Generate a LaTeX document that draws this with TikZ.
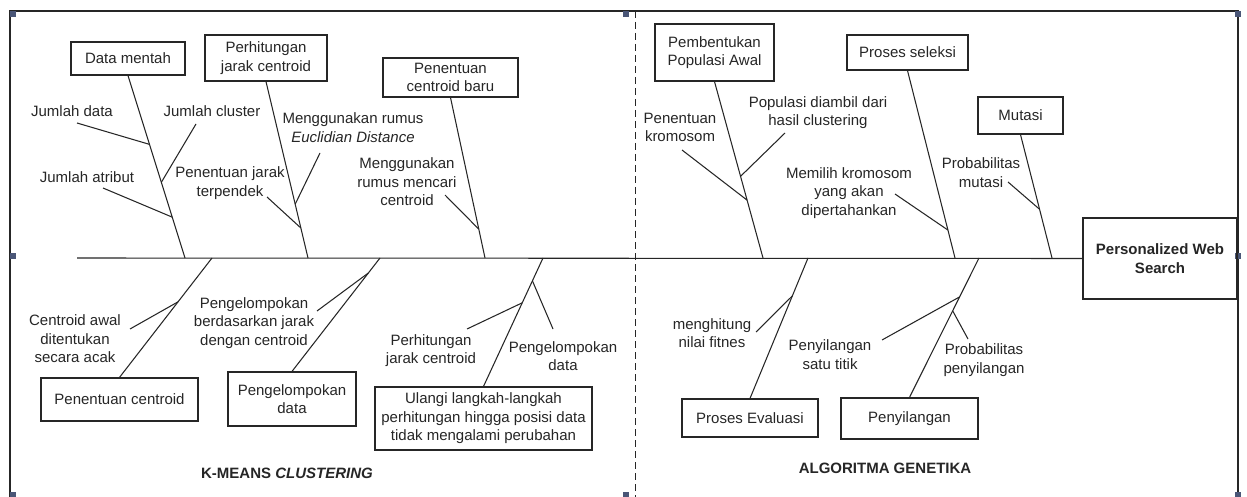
\documentclass[tikz,border=0pt]{standalone}
\usepackage{fontspec}
\setmainfont{Liberation Sans}
\usetikzlibrary{calc}
\definecolor{ink}{HTML}{262626}
\definecolor{handle}{HTML}{4A5677}
\begin{document}
\begin{tikzpicture}[x=1pt,y=-1pt,
  every node/.style={font=\fontsize{15pt}{18.5pt}\selectfont, text=ink},
  box/.style={draw=ink, line width=1.2pt, align=center, inner sep=0pt},
  lbl/.style={align=center, inner sep=0pt},
  bone/.style={draw=ink, line width=1.05pt},
  hdl/.style={fill=handle, draw=none},
  frm/.style={draw=ink, line width=1.3pt}]
\useasboundingbox (0,0) rectangle (1247,497);
\fill[white] (0,0) rectangle (1247,497);
% frame
\coordinate (f1) at (10,497);
\coordinate (f2) at (10,11);
\coordinate (f3) at (1238,11);
\coordinate (f4) at (1238,497);
\draw[frm] (f1) -- (f2) -- (f3) -- (f4);
% selection handles
\foreach \hx/\hy in {10/11, 10/253, 10/492, 623/11, 623/492, 1235/11, 1235/253, 1235/492}
  \fill[hdl] (\hx,\hy) rectangle ++(6,6);
% dashed divider
\coordinate (dtop) at (635,11);
\coordinate (dbot) at (635,497);
\draw[ink, line width=1pt, dash pattern=on 7pt off 4pt] (dtop) -- (dbot);

% head
\node[box, minimum width=154pt, minimum height=81pt, font=\fontsize{15pt}{18.5pt}\selectfont\bfseries] (pws) at (1160,258.5) {Personalized Web\\Search};
% spine
\coordinate (tail) at (77,258);
\draw[bone] (tail) -- (pws.west);

% top boxes
\node[box, minimum width=114pt, minimum height=33pt] (dm) at (128,58.5) {Data mentah};
\node[box, minimum width=122pt, minimum height=46pt] (pjc) at (266,58) {Perhitungan\\jarak centroid};
\node[box, minimum width=135pt, minimum height=39pt] (pcb) at (450.5,77.5) {Penentuan\\centroid baru};
\node[box, minimum width=119pt, minimum height=57pt] (ppa) at (714.5,52.5) {Pembentukan\\Populasi Awal};
\node[box, minimum width=121pt, minimum height=35pt] (ps) at (907.5,52.5) {Proses seleksi};
\node[box, minimum width=85pt, minimum height=37pt] (mu) at (1020.5,115.5) {Mutasi};
% bottom boxes
\node[box, minimum width=157pt, minimum height=43pt] (pc) at (119.5,399.5) {Penentuan centroid};
\node[box, minimum width=128pt, minimum height=54pt] (pgd) at (292,399) {Pengelompokan\\data};
\node[box, minimum width=217pt, minimum height=63pt] (ul) at (483.5,418.5) {Ulangi langkah-langkah\\perhitungan hingga posisi data\\tidak mengalami perubahan};
\node[box, minimum width=136pt, minimum height=38pt] (pe) at (750,418) {Proses Evaluasi};
\node[box, minimum width=137pt, minimum height=41pt] (py) at (909.5,418.5) {Penyilangan};

% spine attach points
\coordinate (s1) at (185,258);
\coordinate (s2) at (308,258);
\coordinate (s3) at (485,258);
\coordinate (s4) at (763,258);
\coordinate (s5) at (955,258);
\coordinate (s6) at (1052,258);
\coordinate (b1) at (212,258);
\coordinate (b2) at (380,258);
\coordinate (b3) at (543,258);
\coordinate (b4) at (808,258);
\coordinate (b5) at (979,258);

% main bones
\draw[bone] (dm.south) -- (s1);
\draw[bone] (pjc.south) -- (s2);
\draw[bone] (pcb.south) -- (s3);
\draw[bone] (ppa.south) -- (s4);
\draw[bone] (ps.south) -- (s5);
\draw[bone] (mu.south) -- (s6);
\draw[bone] (pc.north) -- (b1);
\draw[bone] (pgd.north) -- (b2);
\draw[bone] (ul.north) -- (b3);
\draw[bone] (pe.north) -- (b4);
\draw[bone] (py.north) -- (b5);

% labels
\node[lbl] (ljd) at (72,111) {Jumlah data};
\node[lbl] (ljc) at (212,111) {Jumlah cluster};
\node[lbl] (lja) at (87,177) {Jumlah atribut};
\node[lbl] (lpj) at (230,183) {Penentuan jarak\\terpendek};
\node[lbl] (led) at (353,127.5) {Menggunakan rumus\\\textit{Euclidian Distance}};
\node[lbl] (lmc) at (407,182) {Menggunakan\\rumus mencari\\centroid};
\node[lbl] (lkr) at (680,127.5) {Penentuan\\kromosom};
\node[lbl] (lpp) at (818,112.5) {Populasi diambil dari\\hasil clustering};
\node[lbl] (lmk) at (849,193) {Memilih kromosom\\yang akan\\dipertahankan};
\node[lbl] (lpm) at (981,172.5) {Probabilitas\\mutasi};
\node[lbl] (lca) at (75,339) {Centroid awal\\ditentukan\\secara acak};
\node[lbl] (lpb) at (254,323) {Pengelompokan\\berdasarkan jarak\\dengan centroid};
\node[lbl] (lpjc) at (431,350.5) {Perhitungan\\jarak centroid};
\node[lbl] (lpd) at (563,356) {Pengelompokan\\data};
\node[lbl] (lnf) at (712,333) {menghitung\\nilai fitnes};
\node[lbl] (lst) at (830,354.5) {Penyilangan\\satu titik};
\node[lbl] (lppy) at (984,360) {Probabilitas\\penyilangan};
\node[lbl, font=\fontsize{15pt}{18.5pt}\selectfont\bfseries] (lkm) at (287,473) {K-MEANS \textit{CLUSTERING}};
\node[lbl, font=\fontsize{15pt}{18.5pt}\selectfont\bfseries] (lag) at (885,468) {ALGORITMA GENETIKA};

% free ends of sub-branches
\coordinate (ejd) at (77,123);
\coordinate (ejc) at (196,124);
\coordinate (eja) at (103,188);
\coordinate (epj) at (267,197);
\coordinate (eed) at (320,153);
\coordinate (emc) at (445,195);
\coordinate (ekr) at (682,150);
\coordinate (epp) at (785,133);
\coordinate (emk) at (895,194);
\coordinate (epm) at (1008,182);
\coordinate (eca) at (130,329);
\coordinate (epb) at (317,311);
\coordinate (epjc) at (467,329);
\coordinate (epd) at (553,329);
\coordinate (enf) at (756,332);
\coordinate (est) at (882,340);
\coordinate (eppy) at (968,339);

% sub-branches
\draw[bone] (ejd) -- ($(dm.south)!0.377!(s1)$);
\draw[bone] (ejc) -- ($(dm.south)!0.585!(s1)$);
\draw[bone] (eja) -- ($(dm.south)!0.776!(s1)$);
\draw[bone] (epj) -- ($(pjc.south)!0.83!(s2)$);
\draw[bone] (eed) -- ($(pjc.south)!0.695!(s2)$);
\draw[bone] (emc) -- ($(pcb.south)!0.82!(s3)$);
\draw[bone] (ekr) -- ($(ppa.south)!0.672!(s4)$);
\draw[bone] (epp) -- ($(ppa.south)!0.537!(s4)$);
\draw[bone] (emk) -- ($(ps.south)!0.851!(s5)$);
\draw[bone] (epm) -- ($(mu.south)!0.605!(s6)$);
\draw[bone] (eca) -- ($(pc.north)!0.633!(b1)$);
\draw[bone] (epb) -- ($(pgd.north)!0.868!(b2)$);
\draw[bone] (epjc) -- ($(ul.north)!0.651!(b3)$);
\draw[bone] (epd) -- ($(ul.north)!0.822!(b3)$);
\draw[bone] (enf) -- ($(pe.north)!0.73!(b4)$);
\draw[bone] (est) -- ($(py.north)!0.721!(b5)$);
\draw[bone] (eppy) -- ($(py.north)!0.621!(b5)$);
\end{tikzpicture}
\end{document}
